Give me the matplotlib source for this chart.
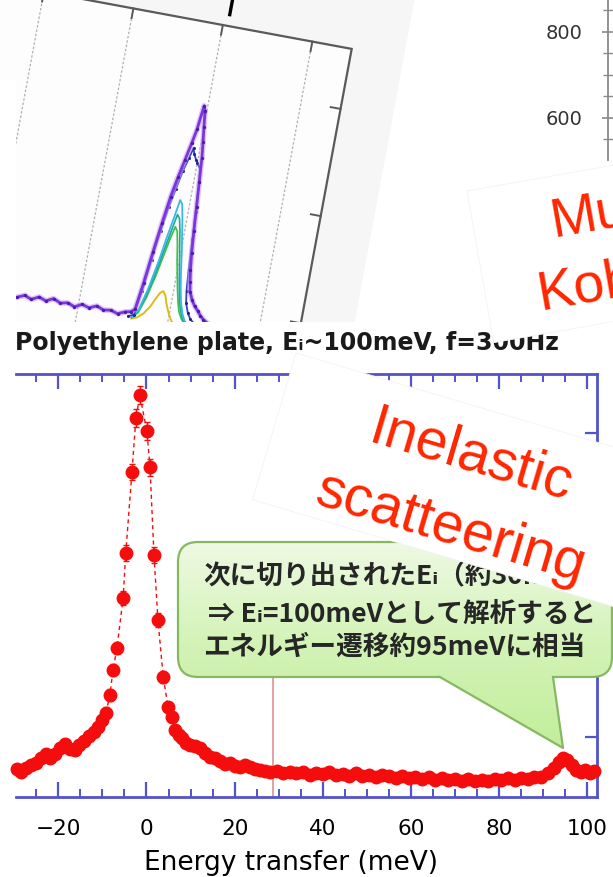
import numpy as np
import matplotlib
matplotlib.use("Agg")
import matplotlib.pyplot as plt
from matplotlib.patches import Polygon, Rectangle, FancyBboxPatch
from matplotlib.transforms import Affine2D
from matplotlib.colors import LinearSegmentedColormap
from matplotlib.ticker import FixedLocator, MultipleLocator
from matplotlib.lines import Line2D

# ---------------- main spectrum: polyethylene plate, Ei ~ 100 meV ----------------
energy = [
    -29.4, -28.4, -27.3, -26.2, -25.1, -24.0, -22.9, -21.8, -20.7, -19.6,
    -18.5, -17.4, -16.3, -15.2, -14.1, -13.0, -12.0, -11.0, -10.1,
    -9.2, -8.3, -7.6, -6.7, -5.3, -4.7, -3.3, -2.4, -1.5, 0.1, 0.8, 1.7,
    2.6, 3.8, 4.9, 5.8, 6.5,
    7.3, 8.1, 9.0, 9.9, 11.0, 12.2, 13.3, 14.4, 15.5, 16.7, 17.8, 19.0,
    20.1, 21.3, 22.4, 23.5, 24.6, 25.8, 26.9, 28.1, 29.5, 31.0, 32.5, 34.0,
    35.5, 37.0, 38.5, 40.0, 41.5, 43.0, 44.5, 46.0, 47.5, 49.0, 50.5, 52.0,
    53.5, 55.0, 56.5, 58.0, 59.5, 61.0, 62.5, 64.0, 65.5, 67.0, 68.5, 70.0,
    71.5, 73.0, 74.5, 76.0, 77.5, 79.0, 80.5, 82.0, 83.5, 85.0, 86.5, 88.0,
    89.5, 91.0,
    92.5, 93.5, 94.5, 95.5, 96.5, 97.5, 98.5, 99.5, 100.5, 101.5,
]
intensity = [
    790, 770, 795, 815, 830, 860, 885, 865, 890, 930,
    955, 920, 915, 945, 975, 1005, 1030, 1065, 1110,
    1160, 1276, 1441, 1586, 1915, 2211, 2744, 3099, 3250, 3013, 2777, 2198,
    1770, 1395, 1197, 1132, 1046,
    1015, 993, 960, 947, 940, 925, 895, 870, 865, 845, 825, 830,
    810, 800, 815, 805, 790, 785, 775, 770, 778, 765, 772, 760,
    770, 752, 766, 755, 768, 748, 758, 745, 760, 742, 752, 738,
    748, 740, 732, 745, 728, 738, 725, 735, 720, 730, 715, 726,
    712, 722, 710, 720, 712, 724, 715, 728, 718, 730, 722, 735,
    738, 760,
    795, 835, 865, 850, 815, 785, 770, 782, 765, 775,
]
error = [
    28, 28, 29, 29, 29, 30, 30, 30, 30, 31,
    31, 31, 31, 32, 32, 33, 33, 34, 35,
    36, 38, 40, 42, 46, 50, 55, 58, 60, 58, 56, 50,
    44, 40, 36, 35, 34,
    33, 33, 32, 32, 32, 32, 31, 31, 31, 30, 30, 30,
    30, 30, 29, 29, 29, 29, 29, 29, 29, 29, 29, 29,
    28, 28, 28, 28, 28, 28, 28, 28, 28, 28, 28, 28,
    28, 28, 28, 28, 28, 28, 28, 28, 28, 28, 28, 28,
    28, 28, 28, 28, 28, 28, 28, 28, 28, 28, 28, 28,
    28, 28,
    29, 30, 30, 30, 29, 29, 28, 28, 28, 28,
]
x_major = [-20, 0, 20, 40, 60, 80, 100]
y_major = [1000, 2000, 3000]
guide_energy = 28.8

# ---------------- upper-left inset: spectra for several incident energies ----------------
purple_E = [-84, -80, -76, -72, -68, -64, -60, -56, -52, -48, -44, -40, -36, -32,
            -28, -24, -21, -19, -17, -15, -13, -11, -9, -7, -5, -3.5, -2, -1, 0,
            1, 2, 3, 4, 5, 6, 7, 8, 9, 11, 13, 15, 17, 19, 22, 26, 30, 35, 40]
purple_I = [2, 8, 3, 10, 5, 12, 6, 9, 4, 11, 7, 13, 8, 10,
            6, 12, 14, 20, 70, 130, 185, 235, 272, 305, 338, 365, 410, 400, 372,
            345, 315, 270, 225, 180, 140, 110, 88, 70, 55, 45, 38, 30, 24, 18, 14, 12, 10, 9]
blue_E = [-22, -19, -17, -15, -13, -11, -9, -7, -5, -3.5, -2.5, -1, 0, 1, 2, 3, 4, 5, 6, 7, 8, 10, 12, 15]
blue_I = [5, 10, 55, 115, 170, 215, 250, 285, 310, 330, 320, 310, 305, 300, 295, 270,
          215, 165, 110, 70, 48, 30, 20, 12]
inner_E = [-20, -17, -14, -11, -9, -7, -5.5, -4, -2.5, -1, 0.5, 2, 3.5, 5, 7, 9, 12]
cyan_I = [4, 20, 60, 115, 160, 200, 232, 225, 200, 170, 140, 105, 75, 50, 28, 15, 8]
teal_I = [4, 18, 52, 100, 140, 178, 205, 198, 175, 145, 118, 88, 62, 40, 22, 12, 6]
green_I = [3, 15, 45, 90, 125, 160, 182, 175, 150, 120, 95, 70, 48, 30, 18, 10, 5]
yellow_I = [2, 6, 15, 30, 45, 58, 62, 55, 40, 28, 18, 10, 6, 4, 2, 1, 1]
inset_grid_E = [-100, -50, 0, 50]
inset_right_ticks = [50, 250, 450]

# ---------------- upper-right axis fragment ----------------
ur_major = [600, 800]

# ---------------- text ----------------
title = "Polyethylene plate, E\u1d62~100meV, f=300Hz"
xlabel = "Energy transfer (meV)"
note_lines = ["次に切り出されたE\u1d62（約30meV）を",
              "⇒ E\u1d62=100meVとして解析すると",
              "エネルギー遷移約95meVに相当"]
red_a = ["Inelastic", "scatteering"]
red_b = ["Multi-Ei", "Kobe"]

W, H = 613, 877
fig = plt.figure(figsize=(W / 100, H / 100), dpi=100)
fig.patch.set_facecolor("white")

# page-coordinate layer (pixels, y downward)
bg = fig.add_axes([0, 0, 1, 1], zorder=0)
bg.set_xlim(0, W)
bg.set_ylim(H, 0)
bg.axis("off")

# ---- rotated inset panel ----
panel = Affine2D().scale(1.82, -0.545).translate(169, -4.7).rotate_deg(10.5).translate(0, 300) + bg.transData
bg.add_patch(Polygon([(-150, -100), (101, -100), (101, 750), (-150, 750)], closed=True,
                     transform=panel, fc="#f6f6f6", ec="none", zorder=1))
bg.add_patch(Rectangle((-130, -80), 202, 642, transform=panel, fc="#fdfdfd",
                       ec="#5a5a5a", lw=1.6, zorder=2))
for e in inset_grid_E:
    bg.add_line(Line2D([e, e], [-80, 562], transform=panel, color="#b0b0b0",
                       lw=0.9, ls=(0, (2, 1.5)), zorder=2.2))
    bg.add_line(Line2D([e, e], [562, 544], transform=panel, color="#5a5a5a", lw=1.4, zorder=2.3))
for t in inset_right_ticks:
    bg.add_line(Line2D([72, 66.5], [t, t], transform=panel, color="#5a5a5a", lw=1.4, zorder=2.3))
bg.add_line(Line2D([2.7, 2.7], [583, 612], transform=panel, color="black", lw=2.4, zorder=2.3))

bg.plot(inner_E, yellow_I, transform=panel, color="#dcbc1c", lw=1.4, zorder=3)
bg.plot(inner_E, green_I, transform=panel, color="#3cc24a", lw=1.3, zorder=3.1)
bg.plot(inner_E, teal_I, transform=panel, color="#20a89a", lw=1.2, zorder=3.2)
bg.plot(inner_E, cyan_I, transform=panel, color="#38b8ea", lw=1.3, zorder=3.3)
bg.plot(blue_E, blue_I, transform=panel, color="#3040c8", lw=1.3, marker="o", ms=2.2,
        mfc="#22228a", mec="none", zorder=3.4)
bg.plot(purple_E, purple_I, transform=panel, color="#cfa0f5", lw=4.0, alpha=0.6, zorder=3.5)
bg.plot(purple_E, purple_I, transform=panel, color="#7a36dc", lw=2.0, marker="o", ms=2.4,
        mfc="#4a1fa8", mec="none", zorder=3.6)

# white strips of the page
bg.add_patch(Rectangle((0, 80), 16, 242, fc="white", ec="none", zorder=4.5))
bg.add_patch(Rectangle((0, 322), W, H - 322, fc="white", ec="none", zorder=5))
bg.text(15, 343, title, ha="left", va="center", fontsize=17, fontweight="bold",
        color="#1a1a1a", family=["DejaVu Sans"], zorder=6)

# ---- upper-right axis fragment ----
ur = fig.add_axes([608 / W, 1 - 160 / H, 0.3, 160 / H], zorder=0.5)
ur.set_ylim(502, 874)
ur.patch.set_alpha(0)
for s in ("top", "right", "bottom"):
    ur.spines[s].set_visible(False)
ur.spines["left"].set_color("#8a8a8a")
ur.spines["left"].set_linewidth(1.3)
ur.set_xticks([])
ur.yaxis.set_major_locator(FixedLocator(ur_major))
ur.yaxis.set_minor_locator(MultipleLocator(50))
ur.tick_params(axis="y", which="both", direction="inout", color="#8a8a8a",
               labelsize=14, labelcolor="#333333", pad=14)
ur.tick_params(axis="y", which="major", length=9, width=1.2)
ur.tick_params(axis="y", which="minor", length=7, width=1.0)

# ---- main spectrum axes ----
left, right, top, bottom = 16, 597, 374, 797
ax = fig.add_axes([left / W, 1 - bottom / H, (right - left) / W, (bottom - top) / H], zorder=1)
ax.patch.set_alpha(0)
ax.set_xlim(-29.6, 102.2)
ax.set_ylim(605, 3390)
blue = "#5252cc"
for s in ("top", "right", "bottom"):
    ax.spines[s].set_color(blue)
    ax.spines[s].set_linewidth(2.0)
ax.spines["left"].set_visible(False)
ax.xaxis.set_major_locator(FixedLocator(x_major))
ax.xaxis.set_minor_locator(MultipleLocator(5))
ax.yaxis.set_major_locator(FixedLocator(y_major))
ax.yaxis.tick_right()
ax.tick_params(axis="x", which="both", direction="in", top=True, bottom=True, color=blue,
               labelsize=15.5, labelcolor="black", pad=16)
ax.tick_params(axis="x", which="major", length=11, width=1.6)
ax.tick_params(axis="x", which="minor", length=6, width=1.4)
ax.tick_params(axis="y", which="major", direction="in", length=9, width=1.6, color=blue,
               labelright=False, labelleft=False, left=False, right=True)
ax.set_xlabel(xlabel, fontsize=19)
ax.xaxis.set_label_coords((291 - left) / (right - left), (bottom - 850) / (bottom - top))

ax.axvline(guide_energy, ymin=0, ymax=0.5, color="#e29a9a", lw=1.3, zorder=1)
red = "#f50d0d"
ax.plot(energy, intensity, ls=(0, (3, 2.5)), color=red, lw=1.0, zorder=2)
ax.errorbar(energy, intensity, yerr=error, fmt="o", color=red, ms=9, mec=red,
            elinewidth=1.0, capsize=2.5, capthick=1.0, zorder=3, clip_on=False)

# ---- overlay: callout and red notes ----
ov = fig.add_axes([0, 0, 1, 1], zorder=2)
ov.set_xlim(0, W)
ov.set_ylim(H, 0)
ov.axis("off")
ov.patch.set_alpha(0)

green_cmap = LinearSegmentedColormap.from_list("note", ["#eef9e3", "#d3f3b6", "#c2ee9c"])
grad = np.linspace(0, 1, 256).reshape(-1, 1)
edge_green = "#86b862"

box = FancyBboxPatch((178, 542), 434, 135, boxstyle="round,pad=0,rounding_size=20",
                     fc="none", ec=edge_green, lw=1.6, zorder=3)
ov.add_patch(box)
im1 = ov.imshow(grad, extent=(178, 612, 748, 542), cmap=green_cmap, aspect="auto", zorder=2)
im1.set_clip_path(box)
tail = Polygon([(440, 677), (440, 668), (553, 668), (553, 677), (563, 748)], closed=True,
               fc="none", ec="none", zorder=3.5)
ov.add_patch(tail)
im2 = ov.imshow(grad, extent=(178, 612, 748, 542), cmap=green_cmap, aspect="auto", zorder=3.5)
im2.set_clip_path(tail)
ov.add_line(Line2D([440, 563, 553], [677, 748, 677], color=edge_green, lw=1.6, zorder=3.6))
ov.set_xlim(0, W)
ov.set_ylim(H, 0)

cjk = ["Noto Sans CJK JP", "DejaVu Sans"]
for (x0, y0), line in zip([(203, 577), (208, 614), (203, 647)], note_lines):
    ov.text(x0, y0, line, ha="left", va="center", fontsize=19.2, fontweight="bold",
            color="#262626", family=cjk, zorder=4)

# white card with "Inelastic scatteering"
card_a = Affine2D().rotate_deg(16.5).translate(296, 353) + ov.transData
ov.add_patch(Rectangle((0, 0), 420, 153, transform=card_a, fc="white", ec="#f3f3f3",
                       lw=0.6, zorder=5))
note_red = "#ff2600"
for (cx, cy), word in zip([(467, 471), (446, 543)], red_a):
    ov.text(cx, cy, word, ha="center", va="baseline", rotation=-16.5, rotation_mode="anchor",
            fontsize=41, color=note_red, family=["Liberation Sans"], zorder=6)

# white card at upper right
card_b = Affine2D().rotate_deg(-10).translate(467, 191) + ov.transData
ov.add_patch(Rectangle((0, 0), 300, 154, transform=card_b, fc="white", ec="#f3f3f3",
                       lw=0.6, zorder=5))
for (sx, sy), word in zip([(553, 237), (540, 310)], red_b):
    ov.text(sx, sy, word, ha="left", va="baseline", rotation=10, rotation_mode="anchor",
            fontsize=40, color=note_red, family=["Liberation Sans"], zorder=6)

fig.savefig("out.png", dpi=100)
